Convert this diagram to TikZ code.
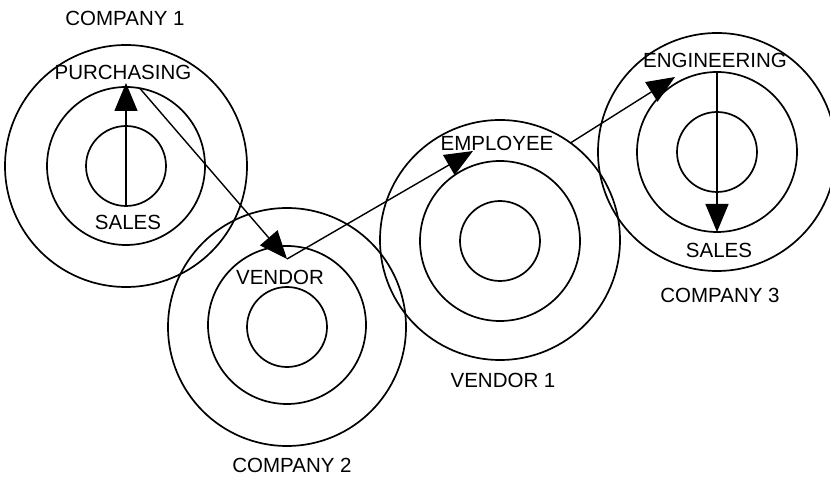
\documentclass[tikz,border=0pt]{standalone}
\usepackage{fontspec}
\setmainfont{Liberation Sans}
\usetikzlibrary{arrows.meta}

\begin{document}
\begin{tikzpicture}[x=1pt,y=-1pt,
  ring/.style={draw, circle, line width=1.7pt, inner sep=0pt, outer sep=0pt},
  lbl/.style={inner sep=0pt, font=\fontsize{20.5}{24}\selectfont},
  flow/.style={line width=1.4pt, -{Triangle[length=28pt,width=23pt]}}]
\useasboundingbox (0,0) rectangle (830,478);

% company 1
\node[ring, minimum size=242pt] (c1out) at (126,166) {};
\node[ring, minimum size=158pt] (c1mid) at (126,166) {};
\node[ring, minimum size=80pt] (c1in) at (126,166) {};
\node[lbl] (comp1) at (125,18) {COMPANY 1};
\node[lbl] (purch) at (123,72) {PURCHASING};
\node[lbl] (sales1) at (128,222) {SALES};

% company 2
\node[ring, minimum size=238pt] (c2out) at (287,327) {};
\node[ring, minimum size=158pt] (c2mid) at (287,325) {};
\node[ring, minimum size=80pt] (c2in) at (287,327) {};
\node[lbl] (vendor) at (280,277) {VENDOR};
\node[lbl] (comp2) at (292,465) {COMPANY 2};

% vendor 1
\node[ring, minimum size=240pt] (v1out) at (500,240) {};
\node[ring, minimum size=160pt] (v1mid) at (500,241) {};
\node[ring, minimum size=80pt] (v1in) at (500,241) {};
\node[lbl] (employee) at (497,143) {EMPLOYEE};
\node[lbl] (vend1) at (503,380) {VENDOR 1};

% company 3
\node[ring, minimum size=238pt] (c3out) at (717,152) {};
\node[ring, minimum size=160pt] (c3mid) at (717,152) {};
\node[ring, minimum size=80pt] (c3in) at (717,152) {};
\node[lbl] (engin) at (715,60) {ENGINEERING};
\node[lbl] (sales3) at (719,250) {SALES};
\node[lbl] (comp3) at (720,295) {COMPANY 3};

\coordinate (vend) at (287,259);
\coordinate (emp) at (473,151);
\coordinate (eng) at (675,77);

\draw[flow, shorten >=-4pt] (c1in.south) -- (c1mid.north);
\draw[flow] (c1mid.80) -- (vend);
\draw[flow] (vend) -- (emp);
\draw[flow] (v1out.54) -- (eng);
\draw[flow] (c3mid.north) -- (c3mid.south);
\end{tikzpicture}
\end{document}
